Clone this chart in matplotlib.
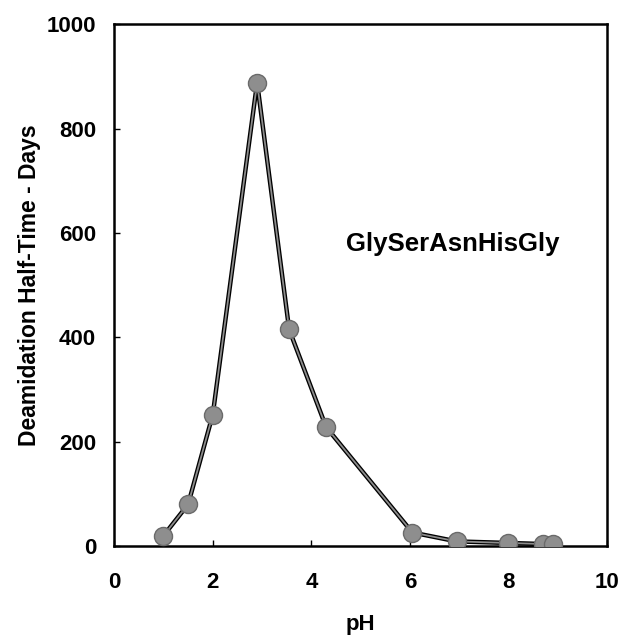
import matplotlib
matplotlib.use('Agg')
import matplotlib.pyplot as plt

###############################
# data
###############################
ph = [1.0, 1.5, 2.0, 2.9, 3.55, 4.3, 6.05, 6.95, 8.0, 8.7, 8.9]
half_time = [20, 80, 252, 888, 415, 228, 26, 9, 6, 4, 4]

xticks = [0, 2, 4, 6, 8, 10]
yticks = [0, 200, 400, 600, 800, 1000]
label_text = 'GlySerAsnHisGly'

plt.rcParams['font.family'] = ['Liberation Sans', 'DejaVu Sans']
plt.rcParams['font.weight'] = 'bold'

fig = plt.figure(figsize=(6.31, 6.35), dpi=100)
ax = fig.add_axes([0.181, 0.140, 0.781, 0.822])

ax.plot(ph, half_time, color='black', lw=3.2, zorder=2)
ax.plot(ph, half_time, color='#8c8c8c', lw=1.3, zorder=3)
ax.plot(ph, half_time, ls='none', marker='o', ms=13, mfc='#8e8e8e',
        mec='#6a6a6a', mew=1.0, zorder=4)

ax.set_xlim(0, 10)
ax.set_ylim(0, 1000)
ax.set_xticks(xticks)
ax.set_yticks(yticks)
ax.tick_params(direction='in', length=4, width=1, labelsize=16)
ax.tick_params(axis='y', pad=13)
ax.tick_params(axis='x', pad=19)
for lab in ax.get_xticklabels() + ax.get_yticklabels():
    lab.set_fontweight('bold')
for s in ax.spines.values():
    s.set_linewidth(1.8)

ax.set_xlabel('pH', fontsize=16, fontweight='bold', labelpad=15)
ax.set_ylabel('Deamidation Half-Time - Days', fontsize=16.5, fontweight='bold', labelpad=4)
ax.text(6.86, 578, label_text, fontsize=18.5, fontweight='bold', ha='center', va='center')

plt.savefig('out.png', dpi=100)
